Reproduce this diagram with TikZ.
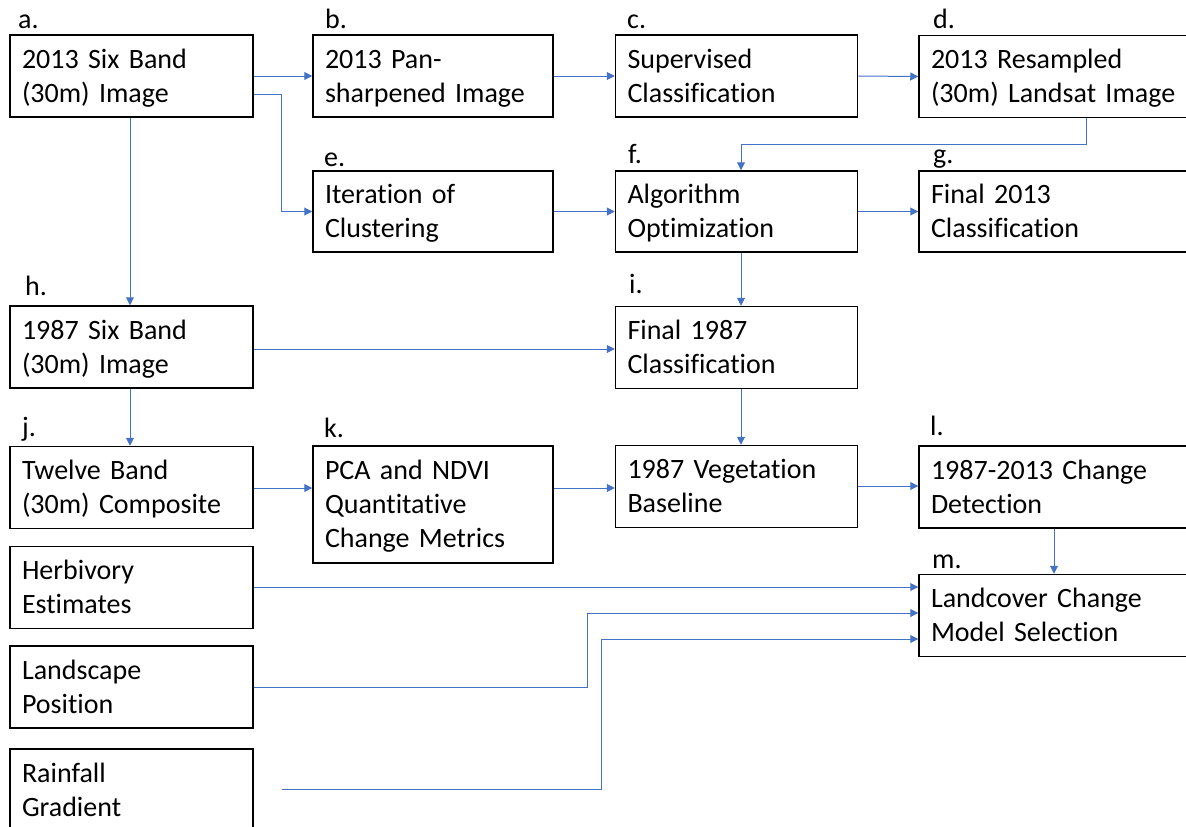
\documentclass[tikz,border=0pt]{standalone}
\usepackage{fontspec}
\setmainfont{Carlito}[Ligatures=NoCommon]
\usetikzlibrary{arrows.meta,calc}
\definecolor{lnblue}{HTML}{4472C4}
\newcommand\boxtopstrut{\rule{0pt}{26pt}}
\newcommand\boxbotstrut{\rule[-8pt]{0pt}{8pt}}
\tikzset{
  box/.style={draw=black, line width=1.5pt, minimum width=#1, minimum height=82pt,
    text width=#1-24pt, inner xsep=12pt, inner ysep=0pt, align=left,
    font=\fontsize{28}{34}\selectfont,
    execute at begin node=\boxtopstrut, execute at end node=\boxbotstrut},
  box/.default=242pt,
  lab/.style={anchor=base west, inner sep=0pt, font=\fontsize{28}{34}\selectfont},
  conn/.style={draw=lnblue, line width=1pt, -{Triangle[length=8pt,width=8pt]}}
}
\begin{document}
\begin{tikzpicture}[x=1pt,y=-1pt]
\useasboundingbox (0,0) rectangle (1186,827);
\clip (0,0) rectangle (1186,827);

% boxes
\node[box=243pt] (a) at (131.5,76) {2013 Six Band\\(30m) Image};
\node[box=240pt] (b) at (433,76) {2013 Pan-\\sharpened Image};
\node[box] (c) at (736.5,76) {Supervised\\Classification};
\node[box=300pt] (d) at (1069,76.5) {2013 Resampled\\(30m) Landsat Image};
\node[box=240pt, minimum height=81pt] (e) at (433,211.5) {Iteration of\\Clustering};
\node[box, minimum height=81pt] (f) at (736.5,211.5) {Algorithm\\Optimization};
\node[box=300pt, minimum height=81pt] (g) at (1069,211.5) {Final 2013\\Classification};
\node[box=243pt] (h) at (131.5,347) {1987 Six Band\\(30m) Image};
\node[box] (i) at (736.5,347.5) {Final 1987\\Classification};
\node[box=243pt] (j) at (131.5,487.5) {Twelve Band\\(30m) Composite};
\node[box=240pt, minimum height=117pt] (k) at (433,504.5) {PCA and NDVI\\Quantitative\\Change Metrics};
\node[box] (veg) at (736.5,486.5) {1987 Vegetation\\Baseline};
\node[box=300pt] (l) at (1069,487) {1987-2013 Change\\Detection};
\node[box=243pt] (herb) at (131.5,587.5) {Herbivory\\Estimates};
\node[box=300pt] (m) at (1069,615.5) {Landcover Change\\Model Selection};
\node[box=243pt] (land) at (131.5,687) {Landscape\\Position};
\node[box=243pt] (rain) at (131.5,790) {Rainfall\\Gradient};

% letter labels
\node[lab] (la) at (18,28) {a.};
\node[lab] (lb) at (325,28) {b.};
\node[lab] (lc) at (627,28) {c.};
\node[lab] (ld) at (933,28) {d.};
\node[lab] (le) at (324,166) {e.};
\node[lab] (lf) at (628,163) {f.};
\node[lab] (lg) at (933,163) {g.};
\node[lab] (lh) at (25,295) {h.};
\node[lab] (li) at (629,293) {i.};
\node[lab] (lj) at (22,436) {j.};
\node[lab] (lk) at (324,437) {k.};
\node[lab] (ll) at (930,435) {l.};
\node[lab] (lm) at (932,568) {m.};

% helper coordinates
\coordinate (ae) at (281,94);
\coordinate (ah) at (130,0);
\coordinate (df1) at (1086,144);
\coordinate (df2) at (741,144);
\coordinate (fi) at (741,0);
\coordinate (hi) at (0,349);
\coordinate (jk) at (0,488);
\coordinate (vl) at (0,486);
\coordinate (lmx) at (1054,0);
\coordinate (hm) at (0,587);
\coordinate (lm1) at (587,687);
\coordinate (lm2) at (587,613);
\coordinate (rs) at (282,789);
\coordinate (r1) at (601,789);
\coordinate (r2) at (601,639);

% connectors
\draw[conn] (a.east) -- (b.west);
\draw[conn] (a.east |- ae) -- (ae) |- (e.west);
\draw[conn] (a.south -| ah) -- (h.north -| ah);
\draw[conn] (b.east) -- (c.west);
\draw[conn] (c.east) -- (d.west);
\draw[conn] (d.south -| df1) -- (df1) -- (df2) -- (f.north -| df2);
\draw[conn] (e.east) -- (f.west);
\draw[conn] (f.east) -- (g.west);
\draw[conn] (f.south -| fi) -- (i.north -| fi);
\draw[conn] (h.east |- hi) -- (i.west |- hi);
\draw[conn] (h.south -| ah) -- (j.north -| ah);
\draw[conn] (j.east |- jk) -- (k.west |- jk);
\draw[conn] (k.east |- jk) -- (veg.west |- jk);
\draw[conn] (i.south -| fi) -- (veg.north -| fi);
\draw[conn] (veg.east |- vl) -- (l.west |- vl);
\draw[conn] (l.south -| lmx) -- (m.north -| lmx);
\draw[conn] (herb.east |- hm) -- (m.west |- hm);
\draw[conn] (land.east |- lm1) -- (lm1) -- (lm2) -- (m.west |- lm2);
\draw[conn] (rs) -- (r1) -- (r2) -- (m.west |- r2);
\end{tikzpicture}
\end{document}
